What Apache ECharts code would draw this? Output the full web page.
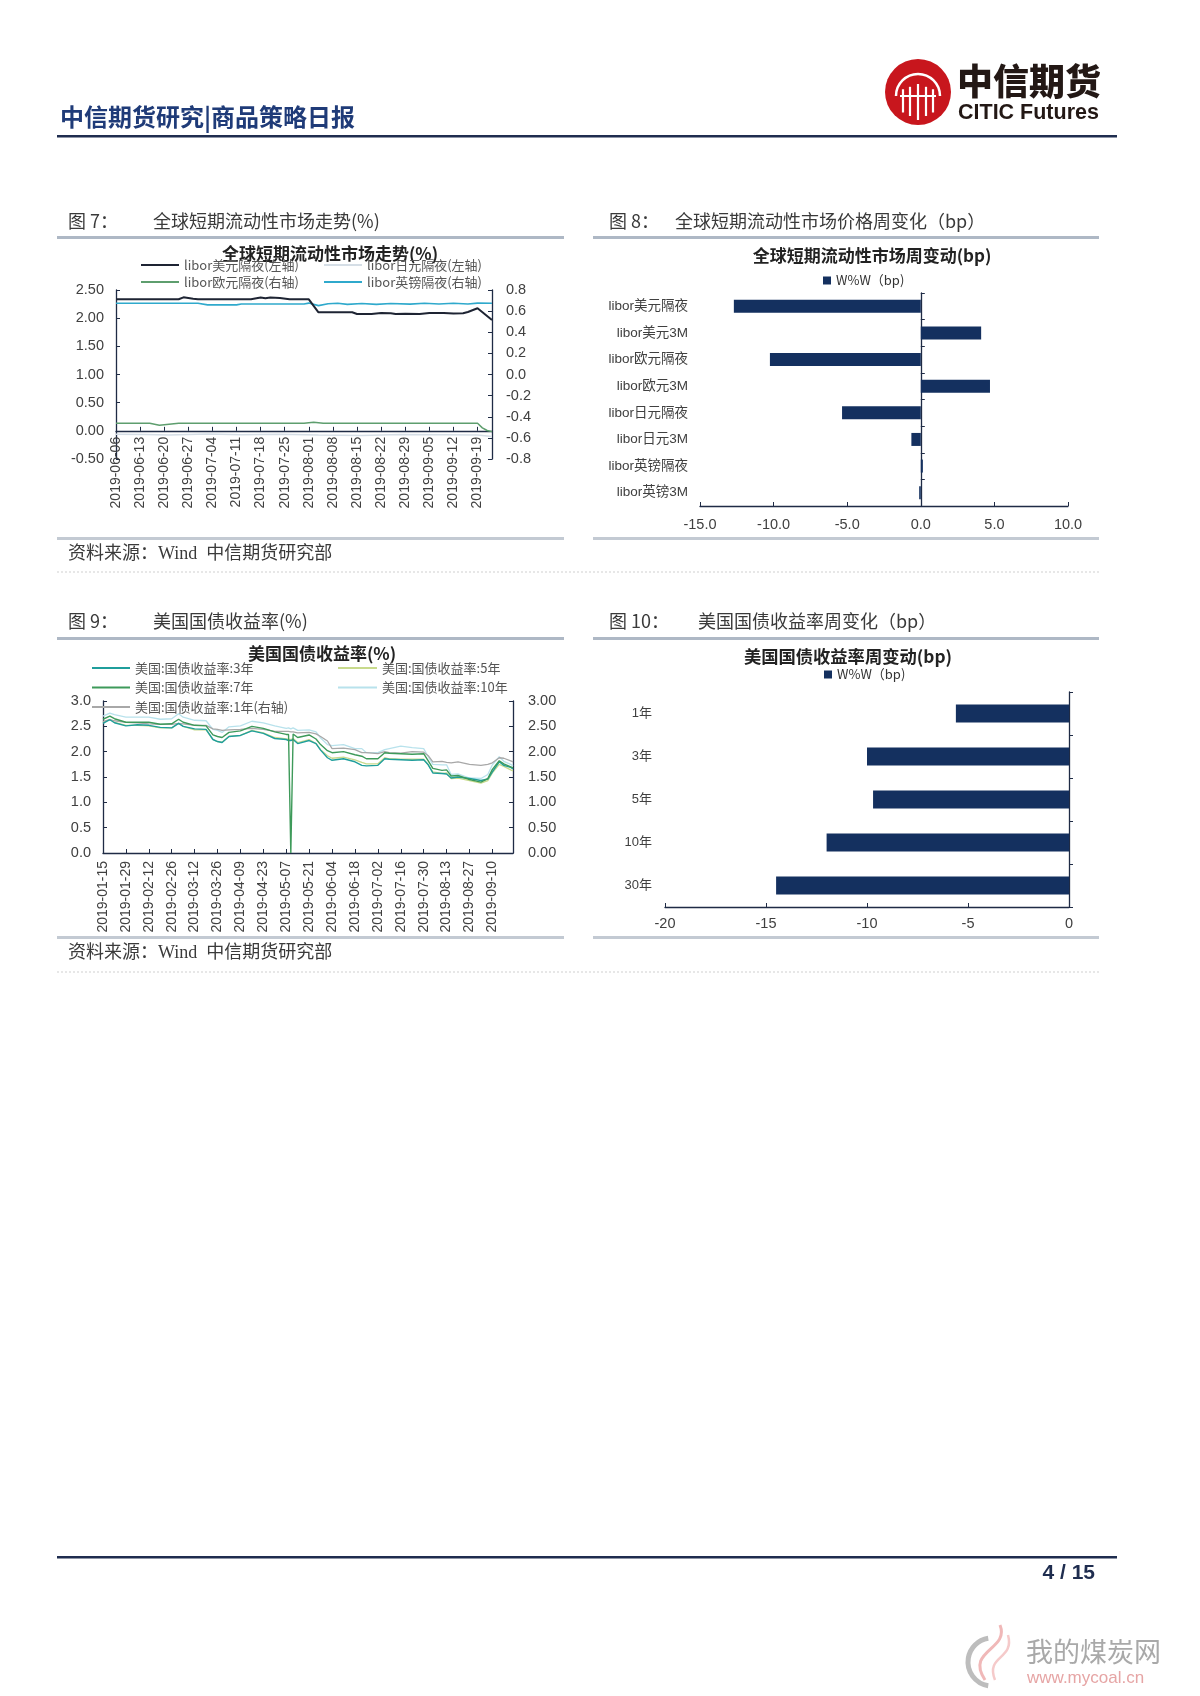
<!DOCTYPE html>
<html><head><meta charset="utf-8">
<script src="https://cdn.jsdelivr.net/npm/echarts@6/dist/echarts.min.js"></script>
<style>html,body{margin:0;padding:0;background:#fff;}#c{width:1200px;height:1696px;}</style>
</head><body><div id="c"></div>
<script>
// ---------- helpers ----------
function bizDays(s, e) {
  const out = [], d = new Date(s + 'T00:00:00Z'), end = new Date(e + 'T00:00:00Z');
  while (d <= end) { const w = d.getUTCDay(); if (w !== 0 && w !== 6) out.push(d.toISOString().slice(0, 10)); d.setUTCDate(d.getUTCDate() + 1); }
  return out;
}
const fontNum = "'Liberation Sans', Arial, 'Noto Sans CJK SC', sans-serif";
const fontCJK = "'Noto Sans CJK SC', 'Liberation Sans', sans-serif";

// ---------- Fig 7 data ----------
const liborDates = bizDays('2019-06-06', '2019-09-24');
const liborNames = ['libor美元隔夜(左轴)', 'libor日元隔夜(左轴)', 'libor欧元隔夜(右轴)', 'libor英镑隔夜(右轴)'];
const usdON = [['2019-06-06',2.335],['2019-06-25',2.335],['2019-06-26',2.37],['2019-06-28',2.345],['2019-07-01',2.335],['2019-07-16',2.335],['2019-07-18',2.365],['2019-07-19',2.355],['2019-07-22',2.365],['2019-07-24',2.36],['2019-07-26',2.335],['2019-08-01',2.335],['2019-08-05',2.104],['2019-08-14',2.104],['2019-08-15',2.074],['2019-08-20',2.076],['2019-08-22',2.092],['2019-08-26',2.088],['2019-08-27',2.074],['2019-08-29',2.080],['2019-09-03',2.076],['2019-09-05',2.090],['2019-09-10',2.092],['2019-09-12',2.084],['2019-09-16',2.088],['2019-09-17',2.11],['2019-09-19',2.175],['2019-09-24',1.968]];
const jpyON = [['2019-06-06',-0.06],['2019-06-14',-0.065],['2019-06-21',-0.075],['2019-07-03',-0.055],['2019-07-12',-0.07],['2019-07-24',-0.06],['2019-08-05',-0.075],['2019-08-16',-0.085],['2019-08-28',-0.065],['2019-09-10',-0.07],['2019-09-19',-0.075],['2019-09-24',-0.1]];
const eurON = [['2019-06-06',-0.462],['2019-06-17',-0.462],['2019-06-19',-0.48],['2019-06-21',-0.47],['2019-06-25',-0.462],['2019-07-31',-0.462],['2019-08-02',-0.452],['2019-08-06',-0.462],['2019-09-19',-0.462],['2019-09-20',-0.505],['2019-09-23',-0.53],['2019-09-24',-0.541]];
const gbpON = [['2019-06-06',0.674],['2019-07-01',0.674],['2019-07-03',0.659],['2019-07-11',0.659],['2019-07-12',0.668],['2019-07-31',0.668],['2019-08-01',0.676],['2019-08-05',0.652],['2019-08-07',0.670],['2019-08-09',0.674],['2019-08-13',0.664],['2019-08-16',0.672],['2019-08-21',0.664],['2019-08-26',0.672],['2019-08-30',0.666],['2019-09-04',0.674],['2019-09-09',0.667],['2019-09-12',0.674],['2019-09-17',0.668],['2019-09-19',0.676],['2019-09-24',0.674]];

// ---------- Fig 8 data ----------
const liborCats = ['libor美元隔夜','libor美元3M','libor欧元隔夜','libor欧元3M','libor日元隔夜','libor日元3M','libor英镑隔夜','libor英镑3M'];
const liborChg = [-12.7, 4.1, -10.25, 4.7, -5.35, -0.64, 0.14, -0.11];

// ---------- Fig 9 data ----------
const ustDates = bizDays('2019-01-15', '2019-09-23');
const ustNames = ['美国:国债收益率:3年','美国:国债收益率:5年','美国:国债收益率:7年','美国:国债收益率:10年','美国:国债收益率:1年(右轴)'];
const ustKeyDates = ['2019-01-15','2019-01-18','2019-01-22','2019-01-29','2019-02-05','2019-02-12','2019-02-19','2019-02-26','2019-03-01','2019-03-05','2019-03-12','2019-03-19','2019-03-22','2019-03-26','2019-03-28','2019-04-02','2019-04-09','2019-04-16','2019-04-23','2019-04-30','2019-05-07','2019-05-08','2019-05-09','2019-05-10','2019-05-14','2019-05-21','2019-05-24','2019-05-28','2019-05-31','2019-06-04','2019-06-11','2019-06-18','2019-06-21','2019-06-25','2019-07-02','2019-07-05','2019-07-09','2019-07-16','2019-07-23','2019-07-30','2019-08-01','2019-08-05','2019-08-09','2019-08-13','2019-08-15','2019-08-20','2019-08-27','2019-09-03','2019-09-06','2019-09-10','2019-09-13','2019-09-17','2019-09-20','2019-09-23'];
const ust3y  = [2.56,2.63,2.57,2.51,2.53,2.52,2.48,2.47,2.56,2.50,2.45,2.44,2.24,2.20,2.18,2.30,2.32,2.41,2.36,2.26,2.24,2.22,2.22,2.24,2.16,2.22,2.16,2.03,1.88,1.83,1.86,1.80,1.73,1.72,1.73,1.86,1.85,1.84,1.83,1.84,1.74,1.58,1.57,1.56,1.48,1.50,1.47,1.43,1.46,1.60,1.80,1.73,1.69,1.66];
const ust5y  = [2.58,2.64,2.58,2.52,2.52,2.51,2.47,2.47,2.56,2.50,2.43,2.43,2.24,2.20,2.19,2.30,2.32,2.42,2.37,2.28,2.25,2.24,2.24,2.26,2.18,2.24,2.16,2.04,1.92,1.87,1.89,1.84,1.79,1.76,1.76,1.88,1.86,1.85,1.85,1.85,1.74,1.60,1.57,1.58,1.47,1.48,1.43,1.38,1.43,1.58,1.75,1.71,1.64,1.62];
const ust7y  = [2.64,2.70,2.65,2.58,2.58,2.58,2.54,2.55,2.64,2.58,2.52,2.51,2.33,2.30,2.28,2.38,2.41,2.50,2.46,2.39,2.34,2.34,0.00,2.35,2.28,2.33,2.25,2.14,2.02,1.98,2.00,1.94,1.91,1.86,1.86,1.98,1.97,1.96,1.95,1.96,1.82,1.67,1.63,1.64,1.52,1.53,1.45,1.40,1.47,1.65,1.82,1.76,1.70,1.68];
const ust10y = [2.70,2.76,2.73,2.68,2.68,2.68,2.64,2.65,2.75,2.68,2.62,2.61,2.44,2.42,2.38,2.49,2.51,2.60,2.57,2.51,2.46,2.47,2.45,2.47,2.42,2.43,2.39,2.27,2.14,2.12,2.14,2.06,2.06,1.98,1.98,2.04,2.06,2.11,2.08,2.06,1.90,1.75,1.74,1.74,1.55,1.56,1.48,1.47,1.55,1.74,1.90,1.81,1.75,1.72];
const ust1y  = [2.60,2.63,2.61,2.58,2.57,2.55,2.54,2.54,2.56,2.55,2.52,2.52,2.45,2.44,2.42,2.43,2.44,2.46,2.44,2.40,2.40,2.40,2.39,2.39,2.37,2.38,2.35,2.30,2.21,2.06,2.07,2.04,1.98,1.98,1.96,2.00,1.98,1.97,2.00,1.99,1.92,1.80,1.81,1.79,1.78,1.80,1.75,1.73,1.75,1.78,1.88,1.87,1.82,1.80];

// ---------- Fig 10 data ----------
const ustCats = ['1年','3年','5年','10年','30年'];
const ustChg = [-5.6, -10.0, -9.7, -12.0, -14.5];

const pairs = (dates, vals) => dates.map((d, i) => [d, vals[i]]);

// ---------- styles ----------
const axisCol = '#1F2B45';
const lblCol = '#404040';
const barCol = '#14305F';
const fix = (n) => (v) => (Math.abs(v) < 1e-9 ? 0 : v).toFixed(n);

const lineSeries = (name, data, color, width, xi, yi, z) => ({
  name, type: 'line', data, xAxisIndex: xi, yAxisIndex: yi, showSymbol: false, symbol: 'none',
  lineStyle: { color, width }, itemStyle: { color }, z: z || 2, animation: false
});

// ---------- page graphics ----------
const G = [];
const txt = (x, y, text, size, opt) => G.push(Object.assign({ type: 'text', x, y, style: Object.assign({ text, fontSize: size, fontFamily: fontCJK, fill: '#3A3A3A', textVerticalAlign: 'middle', verticalAlign: 'middle' }, opt || {}) }));
const rect = (x, y, w, h, fill) => G.push({ type: 'rect', shape: { x, y, width: w, height: h }, style: { fill } });

// header
txt(60, 117, '中信期货研究|商品策略日报', 24, { fill: '#1F3B78', fontWeight: 'bold' });
rect(57, 135, 1060, 2.5, '#1F2D4F');
// logo
G.push({ type: 'circle', shape: { cx: 918, cy: 92, r: 33 }, style: { fill: '#C8161D' } });
G.push({ type: 'arc', shape: { cx: 918, cy: 96, r: 22, startAngle: Math.PI, endAngle: 2 * Math.PI }, style: { stroke: '#fff', lineWidth: 2.5, fill: null } });
[-15, -8, 0, 8, 15].forEach(dx => G.push({ type: 'line', shape: { x1: 918 + dx, y1: 84 + Math.abs(dx) * 0.35, x2: 918 + dx, y2: 120 - Math.abs(dx) * 0.5 }, style: { stroke: '#fff', lineWidth: 2.2 } }));
G.push({ type: 'line', shape: { x1: 900, y1: 96, x2: 936, y2: 96 }, style: { stroke: '#fff', lineWidth: 2 } });
txt(957, 81, '中信期货', 36, { fill: '#231815', fontWeight: 900 });
txt(958, 113, 'CITIC Futures', 21.5, { fill: '#231815', fontWeight: 'bold', fontFamily: "'Liberation Sans Narrow', 'Liberation Sans', sans-serif" });

// figure headers
txt(68, 221, '图 7：', 18); txt(153, 221, '全球短期流动性市场走势(%)', 18);
txt(609, 221, '图 8：', 18); txt(675, 221, '全球短期流动性市场价格周变化（bp）', 18);
txt(68, 621, '图 9：', 18); txt(153, 621, '美国国债收益率(%)', 18);
txt(609, 621, '图 10：', 18); txt(698, 621, '美国国债收益率周变化（bp）', 18);
[[57, 564], [593, 1099]].forEach(([a, b]) => {
  rect(a, 236, b - a, 3, '#AEB8C5'); rect(a, 537, b - a, 3, '#C3CAD3');
  rect(a, 637, b - a, 3, '#AEB8C5'); rect(a, 936, b - a, 3, '#C3CAD3');
});
const srcFont = "'Liberation Serif', 'Noto Sans CJK SC', serif";
txt(68, 554, '资料来源：Wind  中信期货研究部', 18, { fontFamily: srcFont });
txt(68, 953, '资料来源：Wind  中信期货研究部', 18, { fontFamily: srcFont });
[572, 972].forEach(y => G.push({ type: 'line', shape: { x1: 57, y1: y, x2: 1099, y2: y }, style: { stroke: '#CFCFCF', lineWidth: 1, lineDash: [2, 2] } }));

// chart titles
txt(330, 254, '全球短期流动性市场走势(%)', 17, { fill: '#222', fontWeight: 'bold', textAlign: 'center', align: 'center' });
txt(872, 256, '全球短期流动性市场周变动(bp)', 17, { fill: '#222', fontWeight: 'bold', textAlign: 'center', align: 'center' });
txt(322, 654, '美国国债收益率(%)', 17, { fill: '#222', fontWeight: 'bold', textAlign: 'center', align: 'center' });
txt(848, 656, '美国国债收益率周变动(bp)', 17.3, { fill: '#222', fontWeight: 'bold', textAlign: 'center', align: 'center' });

// footer
rect(57, 1556, 1060, 2.5, '#1F2D4F');
txt(1095, 1573, '4 / 15', 21, { fill: '#1F2D4F', fontWeight: 'bold', textAlign: 'right', align: 'right', fontFamily: fontNum });
// watermark
G.push({ type: 'arc', shape: { cx: 992, cy: 1662, r: 24, startAngle: Math.PI * 0.55, endAngle: Math.PI * 1.45 }, style: { stroke: '#BDBDBD', lineWidth: 5, fill: null } });
G.push({ type: 'bezierCurve', shape: { x1: 985, y1: 1680, x2: 1000, y2: 1625, cpx1: 965, cpy1: 1650, cpx2: 1010, cpy2: 1650 }, style: { stroke: '#F0B8B8', lineWidth: 3, fill: null } });
G.push({ type: 'bezierCurve', shape: { x1: 995, y1: 1680, x2: 1008, y2: 1635, cpx1: 985, cpy1: 1655, cpx2: 1015, cpy2: 1660 }, style: { stroke: '#F5CACA', lineWidth: 2.5, fill: null } });
txt(1026, 1652, '我的煤炭网', 27, { fill: '#A9A9A9' });
txt(1027, 1678, 'www.mycoal.cn', 17, { fill: '#E6A5A5', fontFamily: fontNum });

// ---------- option ----------
const baseValAxis = { axisLine: { show: true, lineStyle: { color: axisCol, width: 1.3 } }, axisTick: { show: true, inside: true, length: 4, lineStyle: { color: axisCol } }, splitLine: { show: false }, axisLabel: { color: lblCol, fontSize: 14.5, fontFamily: fontNum } };
const M = (a, b) => echarts.util.merge(echarts.util.clone(a), b, true);
const hiddenAxis = { axisLine: { show: false }, axisTick: { show: false }, axisLabel: { show: false }, splitLine: { show: false } };

const option = {
  animation: false,
  backgroundColor: '#fff',
  grid: [
    { left: 116, top: 290, width: 376, height: 169 },
    { left: 700, top: 293, width: 368, height: 213 },
    { left: 103, top: 701, width: 410, height: 152 },
    { left: 665, top: 692, width: 404, height: 215 },
    // label grid for fig 7: its bottom edge sits on the zero line of the left axis
    { left: 116, top: 290, width: 376, height: 169 * 2.5 / 3 }
  ],
  legend: [
    { data: [liborNames[0], liborNames[2]], orient: 'vertical', left: 136, top: 253, itemWidth: 38, itemHeight: 2, icon: 'rect', itemGap: 3, textStyle: { fontSize: 13, lineHeight: 14, color: '#555', fontFamily: fontCJK } },
    { data: [liborNames[1], liborNames[3]], orient: 'vertical', left: 319, top: 253, itemWidth: 38, itemHeight: 2, icon: 'rect', itemGap: 3, textStyle: { fontSize: 13, lineHeight: 14, color: '#555', fontFamily: fontCJK } },
    { data: ['W%W（bp)'], left: 818, top: 269, itemWidth: 8, itemHeight: 8, icon: 'rect', textStyle: { fontSize: 13, color: '#333', fontFamily: fontCJK } },
    { data: [ustNames[0], ustNames[2], ustNames[4]], orient: 'vertical', left: 87, top: 655, itemWidth: 38, itemHeight: 2, icon: 'rect', itemGap: 3.5, textStyle: { fontSize: 13, lineHeight: 16, color: '#555', fontFamily: fontCJK } },
    { data: [ustNames[1], ustNames[3]], orient: 'vertical', left: 333, top: 655, itemWidth: 39, itemHeight: 2, icon: 'rect', itemGap: 3.5, textStyle: { fontSize: 13, lineHeight: 16, color: '#555', fontFamily: fontCJK } },
    { data: ['W%W（bp) '], left: 819, top: 663, itemWidth: 8, itemHeight: 8, icon: 'rect', textStyle: { fontSize: 13, color: '#333', fontFamily: fontCJK } }
  ],
  xAxis: [
    M(hiddenAxis, { type: 'category', gridIndex: 0, data: liborDates, boundaryGap: false }),
    M(baseValAxis, { type: 'value', gridIndex: 1, min: -15, max: 10, interval: 5, position: 'bottom', axisLine: { onZero: false }, axisLabel: { formatter: fix(1), margin: 12 } }),
    M(baseValAxis, { type: 'category', gridIndex: 2, data: ustDates, boundaryGap: false, axisTick: { interval: 9 }, axisLabel: { interval: 9, rotate: 90, margin: 8, fontSize: 14 } }),
    M(baseValAxis, { type: 'value', gridIndex: 3, min: -20, max: 0, interval: 5, position: 'bottom', axisLine: { onZero: false }, axisLabel: { margin: 10 } }),
    M(baseValAxis, { type: 'category', gridIndex: 4, data: liborDates, boundaryGap: false, position: 'bottom', axisLine: { onZero: false }, axisTick: { interval: 4 }, axisLabel: { interval: 4, rotate: 90, margin: 6, fontSize: 14 } })
  ],
  yAxis: [
    M(baseValAxis, { type: 'value', gridIndex: 0, position: 'left', min: -0.5, max: 2.5, interval: 0.5, axisLabel: { formatter: fix(2), margin: 12 } }),
    M(baseValAxis, { type: 'value', gridIndex: 0, position: 'right', min: -0.8, max: 0.8, interval: 0.2, axisLabel: { formatter: fix(1), margin: 14 } }),
    { type: 'category', gridIndex: 1, data: liborCats, inverse: true, position: 'left', axisLine: { show: false, onZero: false }, axisTick: { show: false }, axisLabel: { margin: 12, fontSize: 13.5, color: lblCol, fontFamily: fontNum } },
    { type: 'category', gridIndex: 1, data: liborCats, inverse: true, position: 'right', axisLine: { show: true, onZero: true, lineStyle: { color: axisCol, width: 1.3 } }, axisTick: { show: true, inside: false, length: 4, lineStyle: { color: axisCol } }, axisLabel: { show: false } },
    M(baseValAxis, { type: 'value', gridIndex: 2, position: 'left', min: 0, max: 3, interval: 0.5, axisLabel: { formatter: fix(1), margin: 12 } }),
    M(baseValAxis, { type: 'value', gridIndex: 2, position: 'right', min: 0, max: 3, interval: 0.5, axisLabel: { formatter: fix(2), margin: 15 } }),
    { type: 'category', gridIndex: 3, data: ustCats, inverse: true, position: 'left', axisLine: { show: false, onZero: false }, axisTick: { show: false }, axisLabel: { margin: 13, fontSize: 13, color: lblCol, fontFamily: fontNum } },
    { type: 'category', gridIndex: 3, data: ustCats, inverse: true, position: 'right', axisLine: { show: true, onZero: false, lineStyle: { color: axisCol, width: 1.3 } }, axisTick: { show: true, inside: false, length: 4, lineStyle: { color: axisCol } }, axisLabel: { show: false } },
    M(hiddenAxis, { type: 'value', gridIndex: 4, min: 0, max: 1 })
  ],
  series: [
    lineSeries(liborNames[1], jpyON, '#D5DEE6', 1.5, 0, 0, 1),
    lineSeries(liborNames[2], eurON, '#5E9E6E', 1.5, 0, 1, 2),
    lineSeries(liborNames[3], gbpON, '#2FA9CC', 1.6, 0, 1, 3),
    lineSeries(liborNames[0], usdON, '#1E2433', 2, 0, 0, 4),
    { name: 'W%W（bp)', type: 'bar', xAxisIndex: 1, yAxisIndex: 2, data: liborChg, barWidth: 13, itemStyle: { color: barCol } },
    lineSeries(ustNames[3], pairs(ustKeyDates, ust10y), '#B8E2EC', 1.3, 2, 4, 2),
    lineSeries(ustNames[1], pairs(ustKeyDates, ust5y), '#C8DA8C', 1.3, 2, 4, 3),
    lineSeries(ustNames[4], pairs(ustKeyDates, ust1y), '#A8A8A8', 1.3, 2, 5, 3),
    lineSeries(ustNames[0], pairs(ustKeyDates, ust3y), '#1F9E9C', 1.4, 2, 4, 4),
    lineSeries(ustNames[2], pairs(ustKeyDates, ust7y), '#3E9A5A', 1.4, 2, 4, 5),
    { name: 'W%W（bp) ', type: 'bar', xAxisIndex: 3, yAxisIndex: 6, data: ustChg, barWidth: 18, itemStyle: { color: barCol } }
  ],
  graphic: { elements: G }
};

const chart = echarts.init(document.getElementById('c'), null, { renderer: 'canvas', width: 1200, height: 1696 });
chart.setOption(option);
</script></body></html>
